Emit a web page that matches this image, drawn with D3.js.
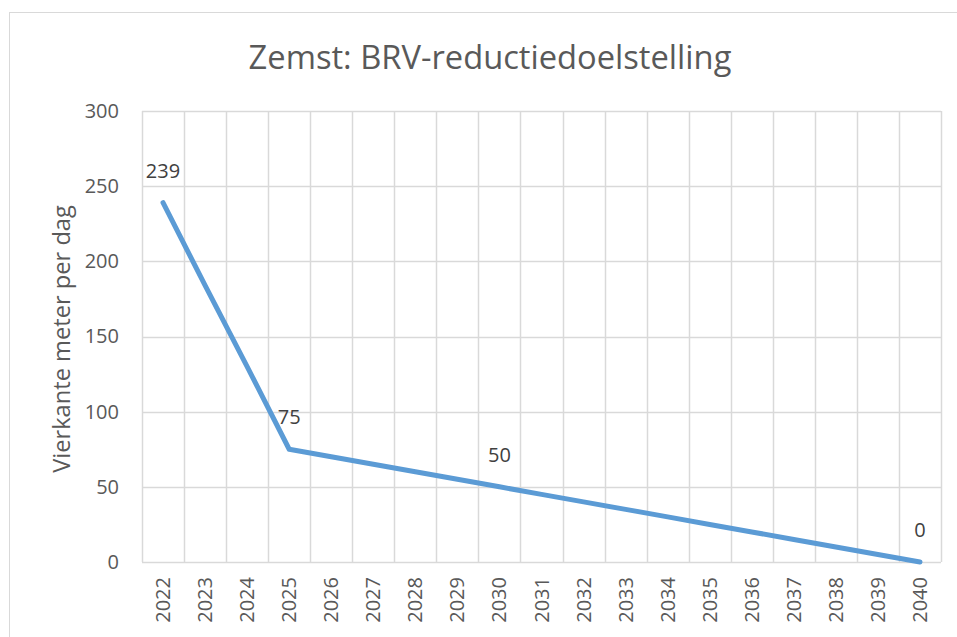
<!DOCTYPE html>
<html><head><meta charset="utf-8">
<script src="https://cdn.jsdelivr.net/npm/d3@7"></script>
<style>body{margin:0;background:#fff;} svg{display:block;font-family:"Open Sans",sans-serif;}</style>
</head><body>
<svg id="c" width="957" height="637"></svg>
<script>
const years = ["2022","2023","2024","2025","2026","2027","2028","2029","2030","2031","2032","2033","2034","2035","2036","2037","2038","2039","2040"];
const values = [239,184,130,75,70,65,60,55,50,45,40,35,30,25,20,15,10,5,0];
const labeledYears = ["2022","2025","2030","2040"];
const yTicks = [0,50,100,150,200,250,300];
const title = "Zemst: BRV-reductiedoelstelling";
const yTitle = "Vierkante meter per dag";

const svg = d3.select("#c");
const m = {left:142, right:941, top:111, bottom:562};
const x = d3.scaleBand().domain(years).range([m.left, m.right]);
const y = d3.scaleLinear().domain([0,300]).range([m.bottom, m.top]);
const grid = "#d9d9d9", txt = "#595959";

function fitWidth(sel, base, target){
  sel.style("font-size", base+"px");
  const w = sel.node().getComputedTextLength();
  sel.style("font-size", (base*target/w)+"px");
}

// chart frame
svg.append("rect").attr("x",9.5).attr("y",12.5).attr("width",980).attr("height",700)
  .attr("fill","none").attr("stroke",grid).attr("stroke-width",1);

// horizontal gridlines
svg.append("g").selectAll("line").data(yTicks).join("line")
  .attr("x1",m.left).attr("x2",m.right)
  .attr("y1",d=>Math.round(y(d))+0.5).attr("y2",d=>Math.round(y(d))+0.5)
  .attr("stroke",grid).attr("stroke-width",1.5);
// vertical gridlines at category boundaries
const bounds = years.map(d=>x(d)).concat([m.right]);
svg.append("g").selectAll("line").data(bounds).join("line")
  .attr("x1",d=>Math.round(d)+0.5).attr("x2",d=>Math.round(d)+0.5)
  .attr("y1",m.top).attr("y2",m.bottom)
  .attr("stroke",grid).attr("stroke-width",1.5);

// y axis labels
const yAxis = d3.axisLeft(y).tickValues(yTicks).tickSize(0).tickPadding(23);
const gy = svg.append("g").attr("transform",`translate(${m.left},0)`).call(yAxis);
gy.select(".domain").remove();
gy.selectAll("text").attr("fill",txt).style("font-size","20px").style("font-family","'Open Sans',sans-serif");

// x axis labels
const xAxis = d3.axisBottom(x).tickSize(0).tickPadding(0);
const gx = svg.append("g").attr("transform",`translate(0,${m.bottom})`).call(xAxis);
gx.select(".domain").remove();
gx.selectAll("text").attr("fill",txt).style("font-size","20px").style("font-family","'Open Sans',sans-serif")
  .attr("transform","rotate(-90)").attr("text-anchor","end").attr("dy","0.35em")
  .attr("x",-15).attr("y",0);

// line
const line = d3.line().x((d,i)=>x(years[i])+x.bandwidth()/2).y(d=>y(d));
svg.append("path").datum(values).attr("d",line).attr("fill","none")
  .attr("stroke","#5B9BD5").attr("stroke-width",5).attr("stroke-linecap","round").attr("stroke-linejoin","round");

// data labels
svg.append("g").selectAll("text").data(labeledYears).join("text")
  .attr("x",d=>x(d)+x.bandwidth()/2)
  .attr("y",d=>y(values[years.indexOf(d)])-32)
  .attr("dy","0.35em").attr("text-anchor","middle").attr("fill","#404040")
  .style("font-size","20px").text(d=>values[years.indexOf(d)]);

// title
const t = svg.append("text").attr("x",490).attr("y",69).attr("text-anchor","middle")
  .attr("fill",txt).text(title);
fitWidth(t, 28, 483);

// y axis title
const yt = svg.append("text").attr("transform",`translate(70,339) rotate(-90)`)
  .attr("text-anchor","middle").attr("fill",txt).text(yTitle);
fitWidth(yt, 18, 268);
</script>
</body></html>
